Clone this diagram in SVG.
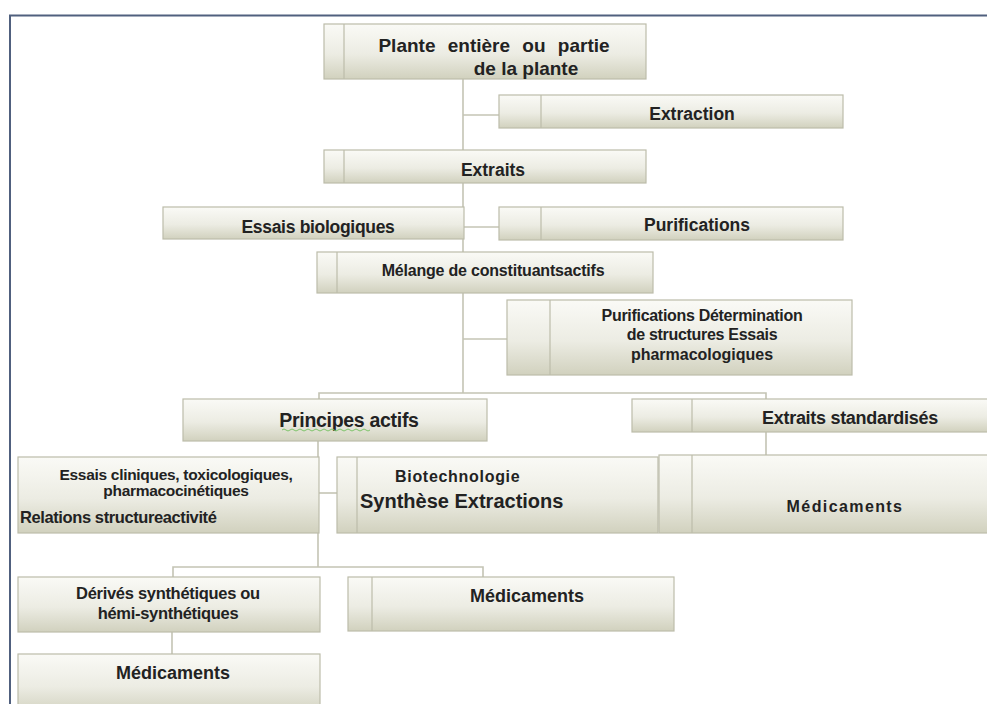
<svg xmlns="http://www.w3.org/2000/svg" width="987" height="704" viewBox="0 0 987 704">
<defs>
<linearGradient id="g" x1="0" y1="0" x2="0" y2="1">
<stop offset="0" stop-color="#fafaf6"/>
<stop offset="0.55" stop-color="#ecece3"/>
<stop offset="1" stop-color="#d1d1be"/>
</linearGradient>
<style>
.b{fill:url(#g);stroke:#bcbcaa;stroke-width:1.2}
.d{stroke:#bcbcaa;stroke-width:1.2}
.c{fill:none;stroke:#c4c4b4;stroke-width:1.6}
text{font-family:"Liberation Sans",Arial,sans-serif;font-weight:bold;fill:#222;text-anchor:middle}
</style>
</defs>
<rect width="987" height="704" fill="#fff"/>
<path d="M10 704 V15.5 H987" fill="none" stroke="#50607e" stroke-width="2"/>
<g id="connectors">
<path class="c" d="M463 79 V393"/>
<path class="c" d="M463 115 H499"/>
<path class="c" d="M463 227 H499"/>
<path class="c" d="M463 339 H507"/>
<path class="c" d="M319 399 V393 H766 V455"/>
<path class="c" d="M318 441 V567"/>
<path class="c" d="M318 493 H337"/>
<path class="c" d="M173 577 V567 H483 V577"/>
<path class="c" d="M172 632 V654"/>
</g>
<g id="n1"><rect class="b" x="324" y="24" width="322" height="55"/><line class="d" x1="344" y1="24" x2="344" y2="79"/>
<text x="494" y="52" font-size="19" word-spacing="7">Plante entière ou partie</text><text x="526" y="75" font-size="19">de la plante</text></g>
<g id="n2"><rect class="b" x="499" y="95" width="344" height="33"/><line class="d" x1="541" y1="95" x2="541" y2="128"/>
<text x="692" y="120" font-size="17.5">Extraction</text></g>
<g id="n3"><rect class="b" x="324" y="150" width="322" height="33"/><line class="d" x1="344" y1="150" x2="344" y2="183"/>
<text x="493" y="176" font-size="17.5">Extraits</text></g>
<g id="n4"><rect class="b" x="163" y="207" width="301" height="32"/>
<text x="318" y="233" font-size="17.5" letter-spacing="-0.3">Essais biologiques</text></g>
<g id="n5"><rect class="b" x="499" y="207" width="344" height="33"/><line class="d" x1="541" y1="207" x2="541" y2="240"/>
<text x="697" y="231" font-size="17.5">Purifications</text></g>
<g id="n6"><rect class="b" x="317" y="252" width="336" height="41"/><line class="d" x1="337" y1="252" x2="337" y2="293"/>
<text x="493" y="276" font-size="16" letter-spacing="-0.2">Mélange de constituantsactifs</text></g>
<g id="n7"><rect class="b" x="507" y="300" width="345" height="75"/><line class="d" x1="550" y1="300" x2="550" y2="375"/>
<text x="702" y="321" font-size="16" letter-spacing="-0.3">Purifications Détermination</text>
<text x="702" y="340" font-size="16" letter-spacing="-0.3">de structures Essais</text>
<text x="702" y="360" font-size="16">pharmacologiques</text></g>
<g id="n8"><rect class="b" x="183" y="399" width="304" height="42"/>
<text x="349" y="427" font-size="19.5" letter-spacing="-0.3">Principes actifs</text>
<path d="M282 430 q2 -2 4 0 t4 0 t4 0 t4 0 t4 0 t4 0 t4 0 t4 0 t4 0 t4 0 t4 0 t4 0 t4 0 t4 0 t4 0 t4 0 t4 0 t4 0 t4 0 t4 0 t4 0 t4 0" fill="none" stroke="#7ec46a" stroke-width="1"/></g>
<g id="n9"><rect class="b" x="632" y="399" width="360" height="33"/><line class="d" x1="692" y1="399" x2="692" y2="432"/>
<text x="850" y="424" font-size="18" letter-spacing="-0.3">Extraits standardisés</text></g>
<g id="n10"><rect class="b" x="18" y="457" width="301" height="76"/>
<text x="176" y="480" font-size="15.5" letter-spacing="-0.3">Essais cliniques, toxicologiques,</text>
<text x="176" y="496" font-size="15.5" letter-spacing="-0.3">pharmacocinétiques</text>
<text x="20" y="523" font-size="16.5" letter-spacing="-0.4" style="text-anchor:start">Relations structureactivité</text></g>
<g id="n11"><rect class="b" x="337" y="457" width="321" height="76"/><line class="d" x1="357" y1="457" x2="357" y2="533"/>
<text x="395" y="482" font-size="16" letter-spacing="0.7" style="text-anchor:start">Biotechnologie</text>
<text x="360" y="508" font-size="20" style="text-anchor:start">Synthèse Extractions</text></g>
<g id="n12"><rect class="b" x="659" y="455" width="333" height="78"/><line class="d" x1="692" y1="455" x2="692" y2="533"/>
<text x="845" y="512" font-size="16" letter-spacing="1.4">Médicaments</text></g>
<g id="n13"><rect class="b" x="18" y="577" width="302" height="55"/>
<text x="168" y="599" font-size="16.5" letter-spacing="-0.3">Dérivés synthétiques ou</text>
<text x="168" y="619" font-size="16.5" letter-spacing="-0.3">hémi-synthétiques</text></g>
<g id="n14"><rect class="b" x="348" y="577" width="326" height="54"/><line class="d" x1="372" y1="577" x2="372" y2="631"/>
<text x="527" y="602" font-size="18">Médicaments</text></g>
<g id="n15"><rect class="b" x="18" y="654" width="302" height="60"/>
<text x="173" y="679" font-size="18">Médicaments</text></g>
</svg>
